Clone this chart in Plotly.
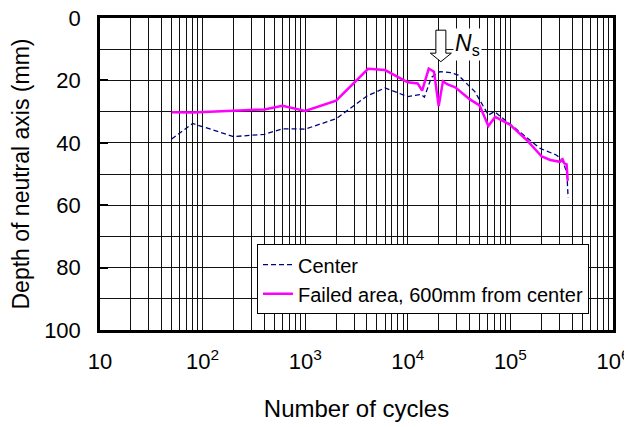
import math
import plotly.graph_objects as go

# ---------------- data ----------------
center_n = [50, 80, 200, 400, 600, 1000, 2000, 4000, 6000, 8500, 10000, 13500, 14500,
            17000, 20500, 26000, 31000, 45000, 56000, 61000, 70000, 95000, 144000,
            195000, 280000, 320000, 355000, 365000]
center_depth = [38.8, 33.8, 38.0, 37.3, 35.5, 35.6, 32.3, 25.0, 22.4, 24.4, 25.2, 24.5, 25.4,
                19.0, 17.2, 17.5, 18.3, 23.6, 28.9, 31.1, 30.0, 33.5, 38.5,
                41.8, 43.9, 45.5, 49.5, 57.5]

failed_n = [50, 80, 400, 600, 1000, 2000, 4100, 6000, 10000, 12500, 13800, 16000, 18000,
            20000, 22000, 24500, 29000, 40000, 50000, 61000, 71000, 99000, 144000,
            202000, 245000, 304000, 323000, 335000, 353000, 362000]
failed_depth = [30.2, 30.3, 29.3, 28.1, 29.8, 26.5, 16.3, 16.7, 20.6, 21.0, 23.3, 16.2, 17.2,
                28.2, 20.3, 21.3, 22.2, 26.0, 28.0, 34.6, 31.7, 34.2, 39.1,
                44.4, 45.5, 46.1, 45.3, 46.6, 46.9, 52.2]

ns_cycles = 21000      # N_s marker position
ns_depth = 14.0        # arrow tip depth

x_decades = [10, 100, 1000, 10000, 100000, 1000000]
x_decade_labels = ["10", "10<sup>2</sup>", "10<sup>3</sup>", "10<sup>4</sup>",
                   "10<sup>5</sup>", "10<sup>6</sup>"]
y_ticks = [0, 20, 40, 60, 80, 100]

# all log grid positions (1..9 x decade)
x_grid = []
x_text = []
for d, lab in zip(x_decades, x_decade_labels):
    for k in range(1, 10):
        v = d * k
        if v > 1000000:
            break
        x_grid.append(v)
        x_text.append(lab if k == 1 else "")

FONT = "Arial, 'Liberation Sans', sans-serif"

fig = go.Figure()
fig.add_trace(go.Scatter(x=center_n, y=center_depth, mode="lines", name="Center",
                         line=dict(color="#000080", width=1.3, dash="5px,3px")))
fig.add_trace(go.Scatter(x=failed_n, y=failed_depth, mode="lines",
                         name="Failed area, 600mm from center",
                         line=dict(color="#FF00FF", width=2.5)))

# hollow down arrow for N_s (pixel-sized, anchored at the data point)
fig.add_shape(type="path", xref="x", yref="y",
              xsizemode="pixel", ysizemode="pixel",
              xanchor=ns_cycles, yanchor=ns_depth,
              path="M 0,0 L -10.5,8.5 L -5,8.5 L -5,31.5 L 5,31.5 L 5,8.5 L 10.5,8.5 Z",
              line=dict(color="black", width=1), fillcolor="white", layer="above")
fig.add_annotation(x=math.log10(ns_cycles), y=ns_depth, xref="x", yref="y",
                   text="<i>N</i><sub>s</sub>", showarrow=False,
                   xanchor="left", yanchor="middle", xshift=12, yshift=17,
                   bgcolor="white", font=dict(family=FONT, size=23, color="black"))

# page body has an 8px margin: figure is placed at (8, 8) in the window
fig.update_layout(
    width=624, height=419,
    margin=dict(l=92, r=19, t=10, b=97, autoexpand=False),
    paper_bgcolor="white", plot_bgcolor="white",
    font=dict(family=FONT, size=22, color="black"),
    showlegend=True,
    legend=dict(x=0.306, y=0.275, xanchor="left", yanchor="top",
                bgcolor="white", bordercolor="black", borderwidth=1,
                font=dict(family=FONT, size=20, color="black"),
                tracegroupgap=0, itemwidth=30),
)
fig.update_xaxes(type="log", range=[1, 6], automargin=False,
                 tickvals=x_grid, ticktext=x_text, ticklabeloverflow="allow",
                 showgrid=True, gridcolor="#111", gridwidth=1,
                 showline=True, linecolor="black", linewidth=2.5, mirror=True,
                 ticks="", ticklabelstandoff=10,
                 zeroline=False,
                 title=dict(text="Number of cycles", font=dict(family=FONT, size=24),
                            standoff=28))
fig.update_yaxes(range=[100, 0], tickvals=y_ticks, automargin=False,
                 ticklabeloverflow="allow",
                 showgrid=True, gridcolor="#111", gridwidth=1,
                 minor=dict(dtick=10, tick0=0, showgrid=True, gridcolor="#111", gridwidth=1),
                 showline=True, linecolor="black", linewidth=2.5, mirror=True,
                 ticks="inside", ticklen=8, tickcolor="black", tickwidth=1.5,
                 ticklabelstandoff=12, zeroline=False,
                 title=dict(text="Depth of neutral axis (mm)", font=dict(family=FONT, size=23),
                            standoff=11))

fig.write_html("out.html")
